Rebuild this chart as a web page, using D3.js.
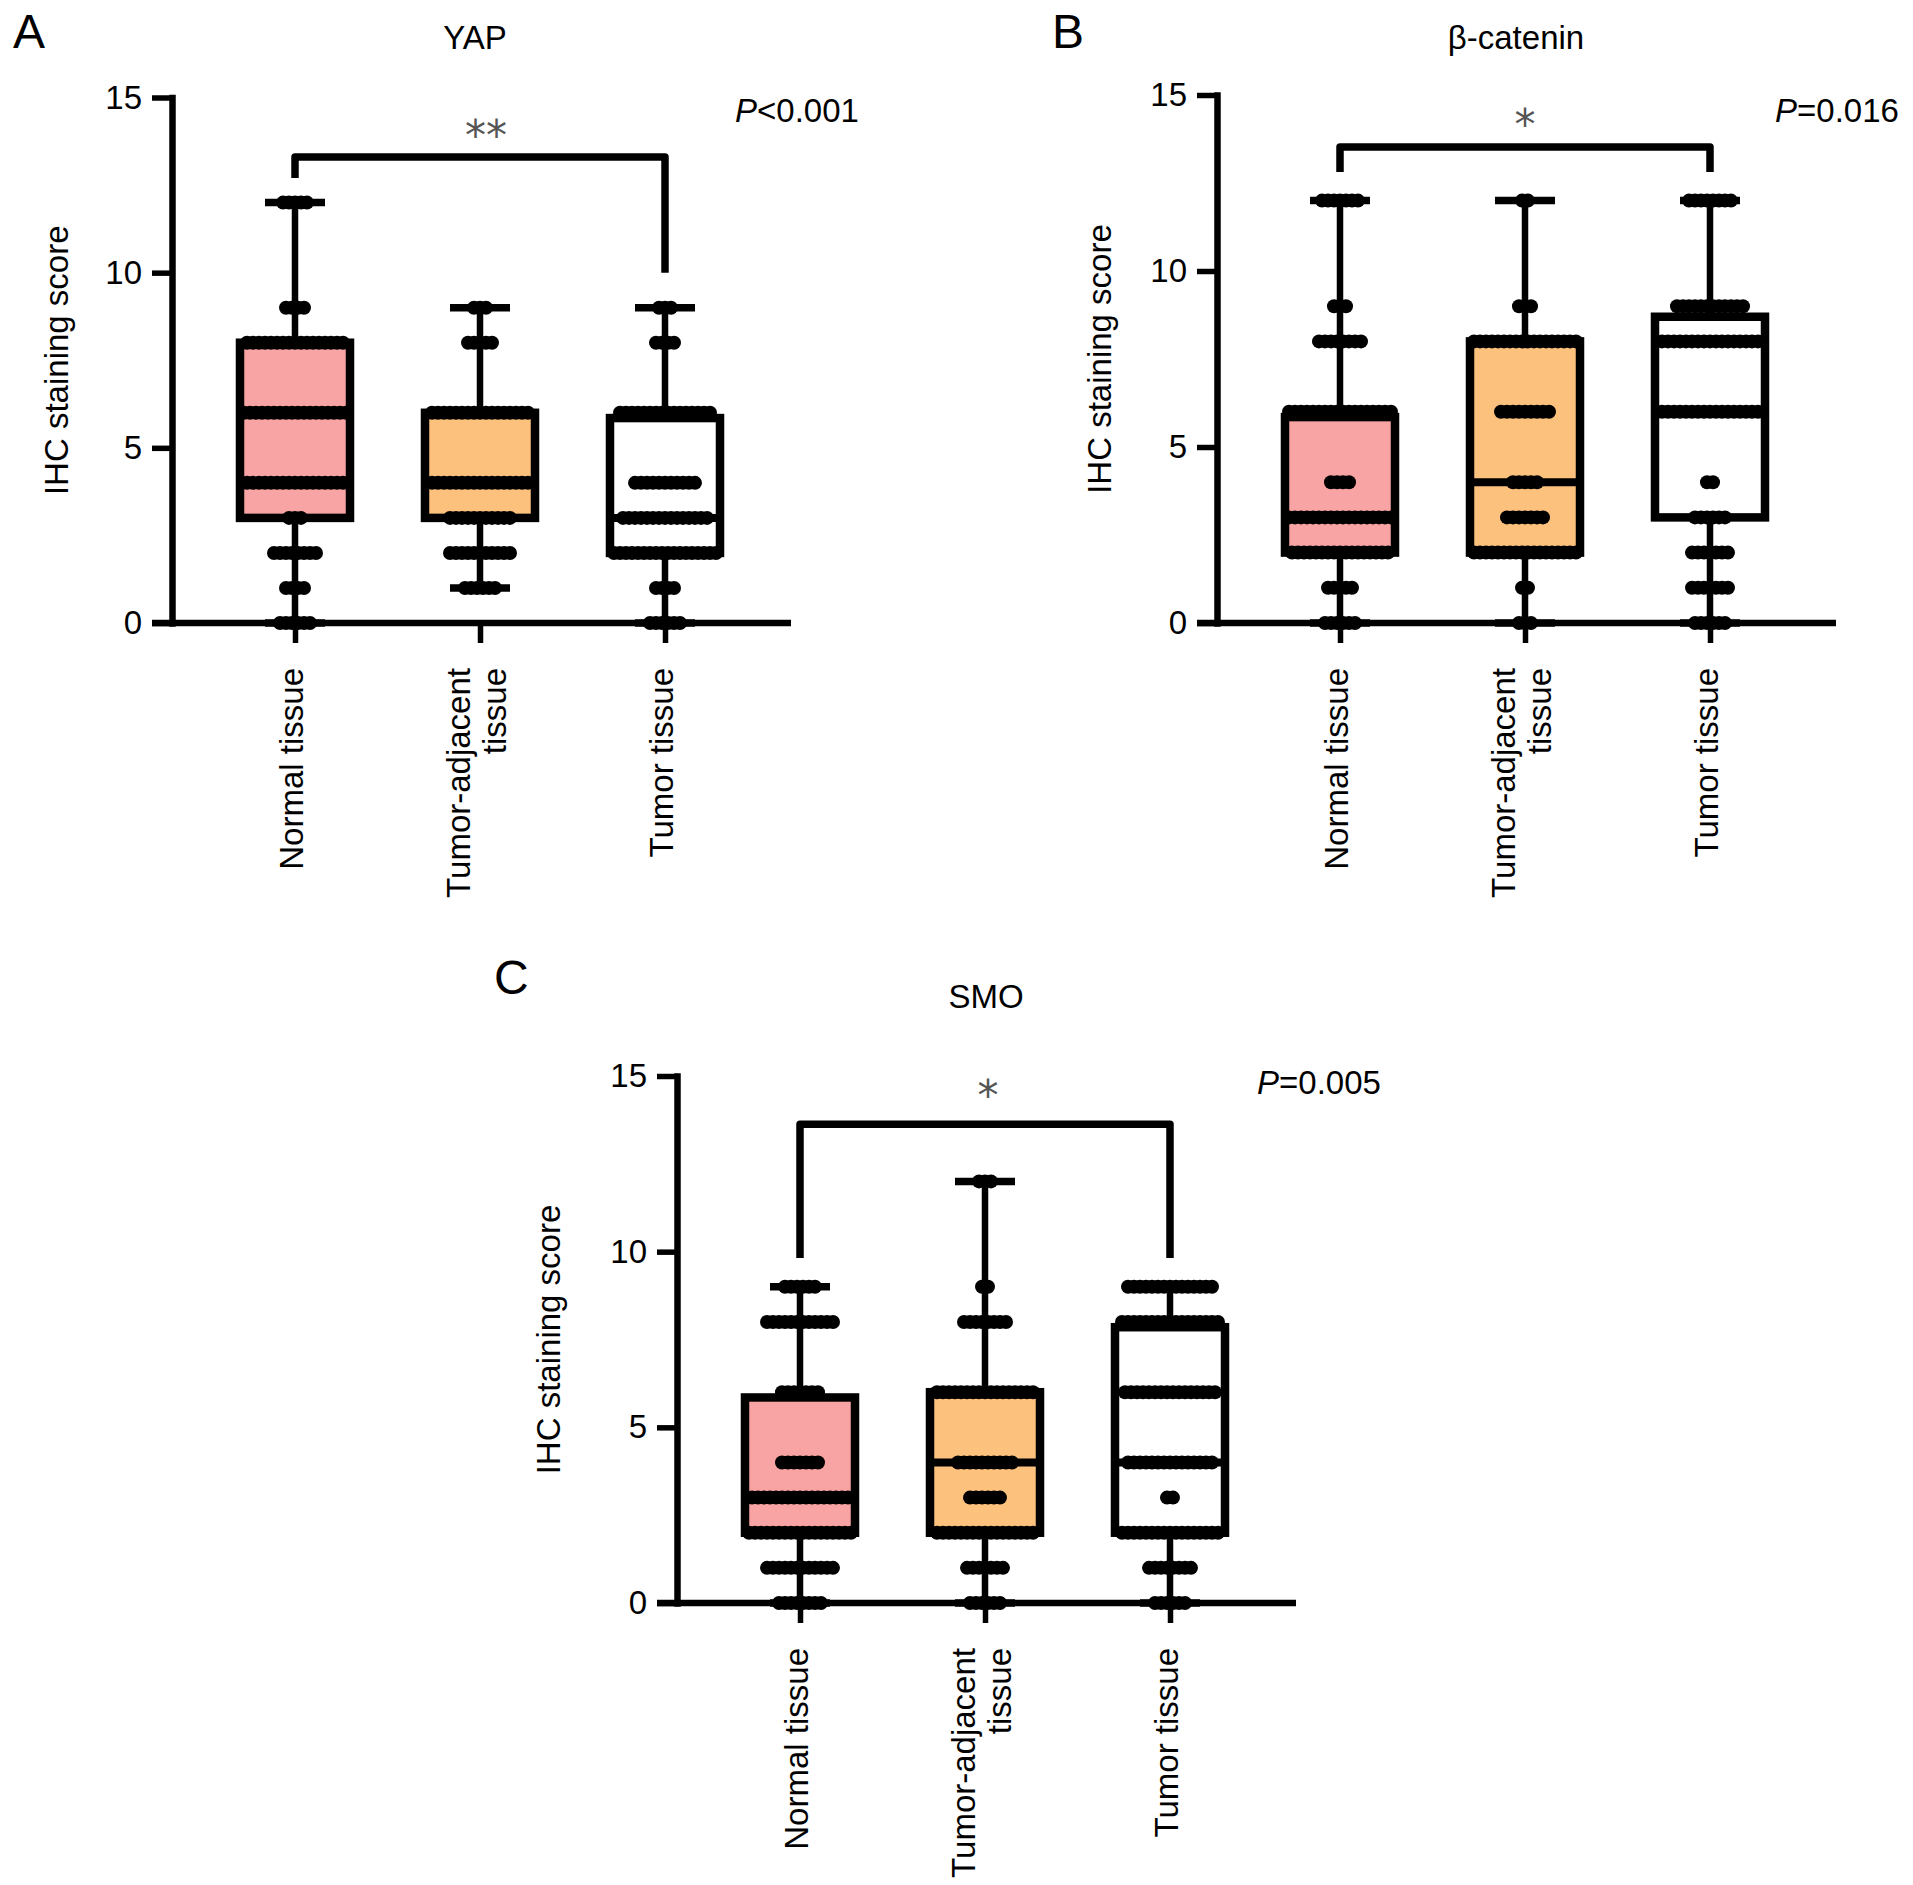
<!DOCTYPE html>
<html><head><meta charset="utf-8">
<script src="https://cdn.jsdelivr.net/npm/d3@7"></script>
<style>body{margin:0;background:#fff} svg{display:block}</style>
</head><body>
<svg id="chart" width="1913" height="1885"></svg>
<script>
// ---------------- DATA ----------------
const categories = ["Normal tissue", "Tumor-adjacent tissue", "Tumor tissue"];
const categoryLines = [["Normal tissue"], ["Tumor-adjacent", "tissue"], ["Tumor tissue"]];
const yTickValues = [0, 5, 10, 15];
const yLabel = "IHC staining score";
const panelLetters = ["A", "B", "C"];
const panelTitles = ["YAP", "β-catenin", "SMO"];
const pValueLabels = ["<0.001", "=0.016", "=0.005"];
const starLabels = ["**", "*", "*"];
const groupFills = ["#F9A4A4", "#FDC17E", "#FFFFFF"];

// box statistics per category: [min, q1, median, q3, max]
const yapBoxes  = [[0, 3, 4, 8, 12], [1, 3, 4, 6, 9], [0, 2, 3, 5.85, 9]];
const betaBoxes = [[0, 2, 3, 5.85, 12], [0, 2, 4, 8, 12], [0, 3, 6, 8.7, 12]];
const smoBoxes  = [[0, 2, 3, 5.85, 9], [0, 2, 4, 6, 12], [0, 2, 4, 7.85, 9]];

// dot rows per category: [score, number of samples]
const yapDots = [
  [[12, 5], [9, 4], [8, 17], [6, 18], [4, 17], [3, 3], [2, 8], [1, 4], [0, 6]],
  [[9, 3], [8, 5], [6, 17], [4, 17], [3, 11], [2, 11], [1, 6]],
  [[9, 3], [8, 4], [6, 16], [4, 11], [3, 15], [2, 18], [1, 4], [0, 6]]
];
const betaDots = [
  [[12, 7], [9, 3], [8, 8], [6, 18], [4, 4], [3, 18], [2, 17], [1, 5], [0, 6]],
  [[12, 2], [9, 3], [8, 18], [6, 9], [4, 5], [3, 7], [2, 18], [1, 2], [0, 3]],
  [[12, 8], [9, 12], [8, 17], [6, 17], [4, 2], [3, 6], [2, 7], [1, 7], [0, 6]]
];
const smoDots = [
  [[9, 6], [8, 12], [6, 7], [4, 7], [3, 17], [2, 18], [1, 12], [0, 8]],
  [[12, 3], [9, 2], [8, 8], [6, 17], [4, 10], [3, 6], [2, 17], [1, 7], [0, 6]],
  [[9, 15], [8, 17], [6, 16], [4, 15], [3, 2], [2, 17], [1, 8], [0, 6]]
];

// significance bracket: [top level, left end, right end] (score units)
const brackets = [[13.3, 12.7, 10.0], [13.52, 12.81, 12.81], [13.63, 9.82, 9.82]];
const starLevels = [14.19, 14.43, 14.72];

const panelBoxes = [yapBoxes, betaBoxes, smoBoxes];
const panelDots = [yapDots, betaDots, smoDots];

// ---------------- LAYOUT ----------------
const layout = [
  {axisX: 172, y0: 623, y15: 97.5, letter: [13, 48], title: [475, 49], p: [735, 122], yLabelOff: 104, starDx: 6},
  {axisX: 1217, y0: 623, y15: 95, letter: [1052, 48], title: [1516, 49], p: [1775, 122], yLabelOff: 106, starDx: 0},
  {axisX: 677, y0: 1603, y15: 1076, letter: [494, 994], title: [986, 1008], p: [1257, 1094], yLabelOff: 117, starDx: 3}
];
const FONT = "'Liberation Sans', Arial, Helvetica, sans-serif";
const FS = 33;
const tickLen = 20;
const axisLen = 619;
const boxW = 110;
const capW = 60;
const dotR = 7, dotStep = 6;

const svg = d3.select("#chart");

panelTitles.forEach((title, p) => {
  const L = layout[p];
  const g = svg.append("g");
  const y = d3.scaleLinear().domain([0, 15]).range([L.y0, L.y15]);
  const x = d3.scalePoint().domain(categories).range([L.axisX + 123, L.axisX + 493]);

  // panel letter and title
  g.append("text").attr("x", L.letter[0]).attr("y", L.letter[1])
    .attr("font-family", FONT).attr("font-size", 48).text(panelLetters[p]);
  g.append("text").attr("x", L.title[0]).attr("y", L.title[1]).attr("text-anchor", "middle")
    .attr("font-family", FONT).attr("font-size", FS).text(title);

  // y axis
  const ya = g.append("g").attr("transform", `translate(${L.axisX},0)`)
    .call(d3.axisLeft(y).tickValues(yTickValues).tickSize(tickLen).tickSizeOuter(0).tickPadding(10));
  ya.select(".domain").attr("stroke-width", 6.5).attr("stroke-linecap", "square");
  ya.selectAll(".tick line").attr("stroke-width", 5.5);
  ya.selectAll(".tick text").attr("font-family", FONT).attr("font-size", FS).attr("fill", "#000");

  // x axis
  const xa = g.append("g").attr("transform", `translate(0,${L.y0})`)
    .call(d3.axisBottom(x).tickSize(tickLen).tickSizeOuter(0).tickFormat(""));
  xa.select(".domain").remove();
  xa.selectAll(".tick line").attr("stroke-width", 5.5);
  g.append("line").attr("x1", L.axisX - tickLen).attr("x2", L.axisX + axisLen)
    .attr("y1", L.y0).attr("y2", L.y0).attr("stroke", "#000").attr("stroke-width", 6.5);

  // x tick labels (rotated, multi-line)
  categories.forEach((c, i) => {
    const lines = categoryLines[i];
    const t = g.append("text")
      .attr("transform", `translate(${x(c)},${L.y0 + 45}) rotate(-90)`)
      .attr("text-anchor", "end").attr("font-family", FONT).attr("font-size", FS);
    lines.forEach((ln, k) => {
      const off = 8 + (k - (lines.length - 1) / 2) * 36;
      t.append("tspan").attr("x", 0).attr("y", off).text(ln);
    });
  });

  // y label
  g.append("text")
    .attr("transform", `translate(${L.axisX - L.yLabelOff},${(L.y0 + L.y15) / 2}) rotate(-90)`)
    .attr("text-anchor", "middle").attr("font-family", FONT).attr("font-size", FS).text(yLabel);

  // boxes
  const boxes = panelBoxes[p];
  categories.forEach((c, i) => {
    const [mn, q1, md, q3, mx] = boxes[i];
    const cx = x(c);
    const bg = g.append("g");
    bg.append("line").attr("x1", cx).attr("x2", cx).attr("y1", y(mx)).attr("y2", y(q3))
      .attr("stroke", "#000").attr("stroke-width", 6.5);
    bg.append("line").attr("x1", cx).attr("x2", cx).attr("y1", y(q1)).attr("y2", y(mn))
      .attr("stroke", "#000").attr("stroke-width", 6.5);
    [mn, mx].forEach(v => bg.append("line").attr("x1", cx - capW / 2).attr("x2", cx + capW / 2)
      .attr("y1", y(v)).attr("y2", y(v)).attr("stroke", "#000").attr("stroke-width", 7.5));
    bg.append("rect").attr("x", cx - boxW / 2).attr("width", boxW)
      .attr("y", y(q3)).attr("height", y(q1) - y(q3))
      .attr("fill", groupFills[i]).attr("stroke", "#000").attr("stroke-width", 8.5);
    bg.append("line").attr("x1", cx - boxW / 2).attr("x2", cx + boxW / 2)
      .attr("y1", y(md)).attr("y2", y(md)).attr("stroke", "#000").attr("stroke-width", 8);
  });

  // dots
  const dots = panelDots[p];
  categories.forEach((c, i) => {
    const cx = x(c);
    const pts = [];
    dots[i].forEach(([v, n]) => {
      for (let k = 0; k < n; k++) pts.push({cx: cx + (k - (n - 1) / 2) * dotStep, cy: y(v)});
    });
    g.append("g").selectAll("circle").data(pts).join("circle")
      .attr("cx", d => d.cx).attr("cy", d => d.cy).attr("r", dotR).attr("fill", "#000");
  });

  // bracket
  const [top, le, re] = brackets[p];
  const x0 = x(categories[0]), x2 = x(categories[2]);
  g.append("path").attr("d", `M${x0},${y(le)}V${y(top)}H${x2}V${y(re)}`)
    .attr("fill", "none").attr("stroke", "#000").attr("stroke-width", 7.5).attr("stroke-linejoin", "round");
  g.append("text").attr("x", x(categories[1]) + L.starDx).attr("y", y(starLevels[p]) + 24)
    .attr("text-anchor", "middle").attr("font-family", "'DejaVu Sans', sans-serif")
    .attr("font-size", 42).attr("fill", "#555").text(starLabels[p]);

  // p value
  const pt = g.append("text").attr("x", L.p[0]).attr("y", L.p[1])
    .attr("font-family", FONT).attr("font-size", FS);
  pt.append("tspan").attr("font-style", "italic").text("P");
  pt.append("tspan").text(pValueLabels[p]);
});
</script>
</body></html>
